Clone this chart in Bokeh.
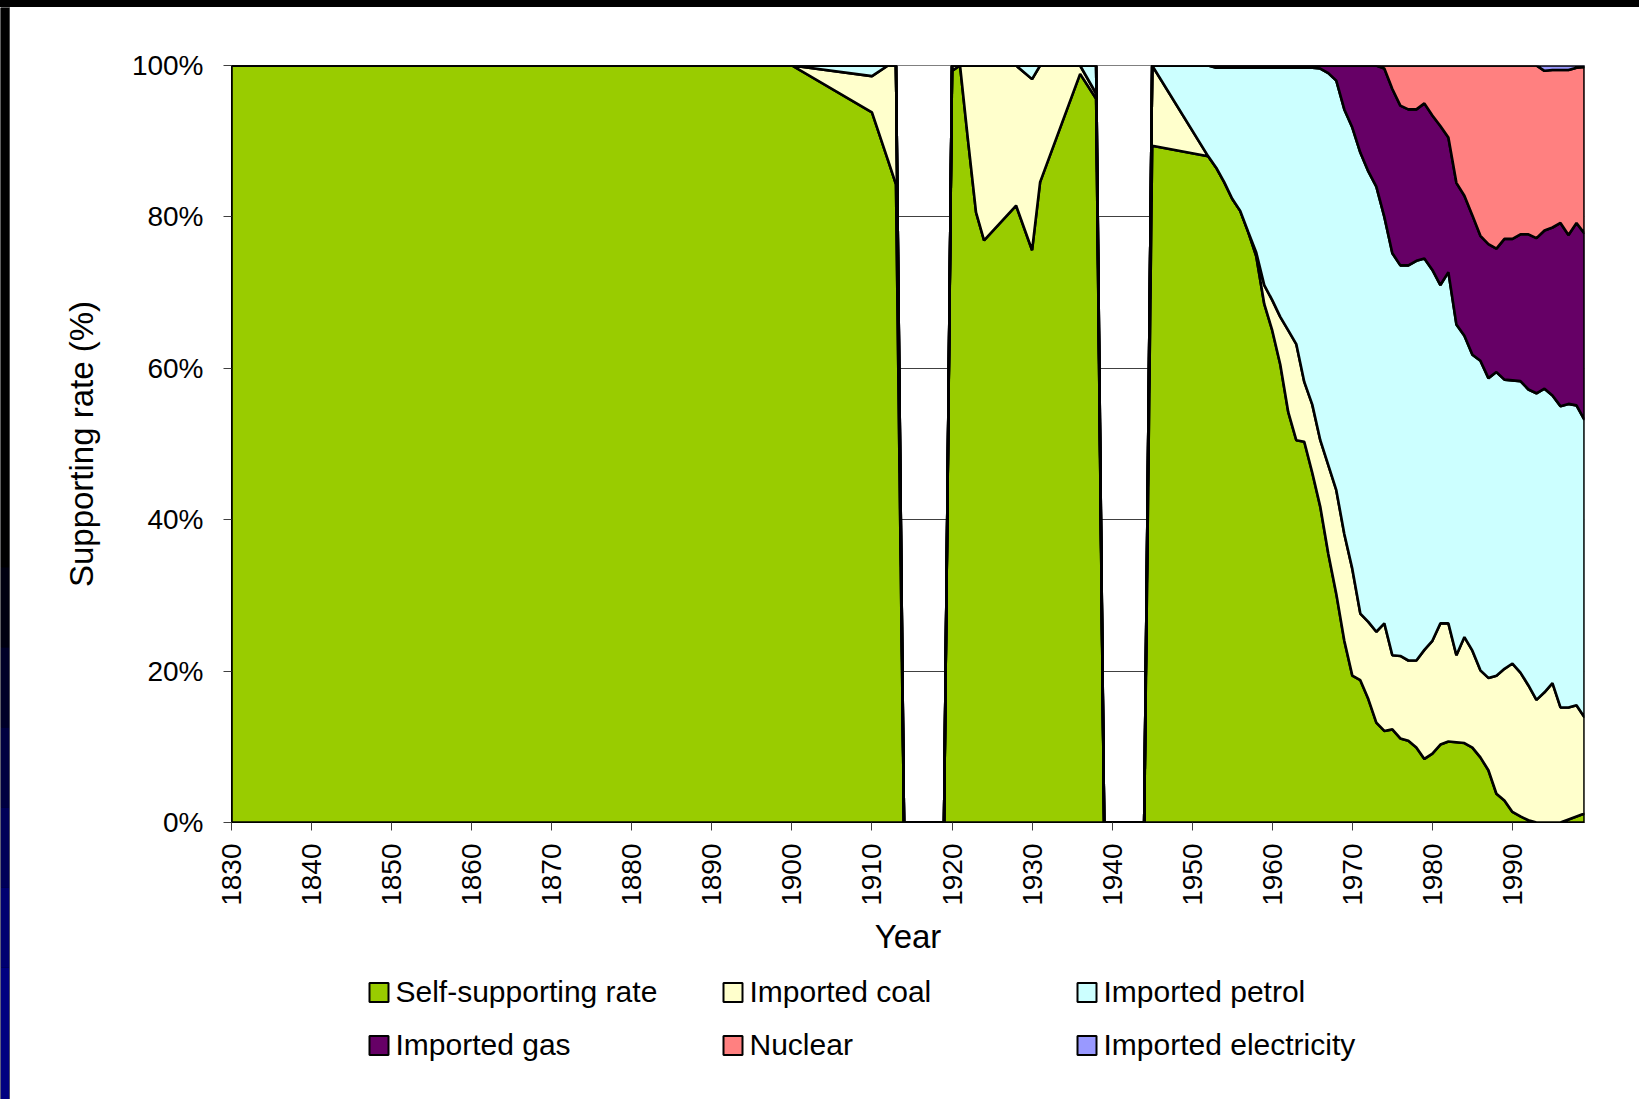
import math
from bokeh.plotting import figure
from bokeh.layouts import column, row
from bokeh.models import Range1d, FixedTicker, PrintfTickFormatter, Div
from bokeh.core.properties import value
from bokeh.embed import file_html
from bokeh.resources import INLINE

# ---------------- data (percent of supply) ----------------
years = [1830, 1900, 1910, 1912, 1913, 1914, 1919, 1920, 1921, 1922, 1923, 1924,
         1928, 1930, 1931, 1936, 1938, 1939, 1944, 1945, 1952,
         1953, 1954, 1955, 1956, 1957, 1958, 1959, 1960, 1961, 1962, 1963, 1964,
         1965, 1966, 1967, 1968, 1969, 1970, 1971, 1972, 1973, 1974, 1975, 1976,
         1977, 1978, 1979, 1980, 1981, 1982, 1983, 1984, 1985, 1986, 1987, 1988,
         1989, 1990, 1991, 1992, 1993, 1994, 1995, 1996, 1997, 1998, 1999]

self_supporting = [100, 100, 93.8, 87.5, 84.3, 0, 0, 99.3, 100, 90.1, 80.6, 76.9,
                   81.5, 75.6, 84.6, 98.9, 95.6, 0, 0, 89.4, 88.0,
                   86.5, 84.6, 82.4, 80.8, 78.0, 74.8, 68.5, 65.0, 60.5, 54.2, 50.5, 50.3,
                   46.2, 41.7, 35.5, 30.2, 24.0, 19.4, 18.8, 16.3, 13.2, 12.1, 12.3, 11.1,
                   10.8, 9.9, 8.4, 9.1, 10.3, 10.7, 10.6, 10.5, 9.9, 8.6, 6.9, 3.8,
                   2.9, 1.4, 0.8, 0.3, 0.0, 0.0, 0.0, 0.0, 0.4, 0.8, 1.2]

imported_coal = [0, 0, 4.8, 12.5, 15.7, 0, 0, 0.7, 0, 9.9, 19.4, 23.1,
                 18.5, 22.6, 15.4, 1.1, 0.7, 0, 0, 10.6, 0.0,
                 0.0, 0.0, 0.0, 0.0, 0.0, 0.5, 2.5, 4.0, 6.3, 10.8, 12.7, 7.9,
                 9.0, 8.8, 11.7, 13.7, 14.1, 14.1, 8.8, 10.2, 12.0, 14.2, 9.8, 10.9,
                 10.6, 11.5, 14.4, 14.9, 16.0, 15.6, 11.5, 14.0, 12.8, 11.5, 12.2, 15.6,
                 17.4, 19.6, 19.0, 17.8, 16.2, 17.2, 18.4, 15.2, 14.8, 14.7, 12.7]

imported_petrol = [0, 0, 1.4, 0, 0, 0, 0, 0, 0, 0, 0, 0,
                   0, 1.8, 0, 0, 3.7, 0, 0, 0, 12.0,
                   13.2, 15.1, 17.3, 18.9, 21.7, 24.4, 28.7, 30.7, 32.9, 34.7, 36.5, 41.5,
                   44.5, 49.1, 51.8, 54.1, 56.1, 58.3, 60.9, 59.5, 58.8, 53.7, 53.1, 51.6,
                   52.2, 52.8, 51.7, 49.0, 44.7, 46.4, 43.7, 39.8, 39.1, 40.9, 39.6, 40.1,
                   38.2, 37.4, 38.5, 39.1, 40.5, 40.1, 38.0, 39.8, 40.1, 39.6, 39.3]

imported_gas = [0, 0, 0, 0, 0, 0, 0, 0, 0, 0, 0, 0,
                0, 0, 0, 0, 0, 0, 0, 0, 0,
                0.3, 0.3, 0.3, 0.3, 0.3, 0.3, 0.3, 0.3, 0.3, 0.3, 0.3, 0.3,
                0.3, 0.4, 1.0, 2.0, 5.8, 8.2, 11.5, 14.0, 16.0, 19.6, 21.7, 21.1,
                20.6, 20.0, 20.5, 20.4, 21.0, 17.8, 18.7, 18.5, 18.4, 16.5, 17.7, 16.3,
                18.6, 18.7, 19.4, 20.5, 20.5, 20.9, 22.2, 24.2, 22.3, 24.1, 24.6]

nuclear = [0, 0, 0, 0, 0, 0, 0, 0, 0, 0, 0, 0,
           0, 0, 0, 0, 0, 0, 0, 0, 0,
           0, 0, 0, 0, 0, 0, 0, 0, 0, 0, 0, 0,
           0, 0, 0, 0, 0, 0, 0, 0, 0, 0.4, 3.1, 5.3,
           5.8, 5.8, 5.0, 6.6, 8.0, 9.5, 15.5, 17.2, 19.8, 22.5, 23.6, 24.2,
           22.9, 22.9, 22.3, 22.3, 22.8, 21.1, 20.8, 20.2, 21.8, 20.5, 22.0]

imported_electricity = [0, 0, 0, 0, 0, 0, 0, 0, 0, 0, 0, 0,
                        0, 0, 0, 0, 0, 0, 0, 0, 0,
                        0, 0, 0, 0, 0, 0, 0, 0, 0, 0, 0, 0,
                        0, 0, 0, 0, 0, 0, 0, 0, 0, 0, 0, 0,
                        0, 0, 0, 0, 0, 0, 0, 0, 0, 0, 0, 0,
                        0, 0, 0, 0, 0, 0.7, 0.6, 0.6, 0.6, 0.3, 0.2]

series_names = ["Self-supporting rate", "Imported coal", "Imported petrol",
                "Imported gas", "Nuclear", "Imported electricity"]
series_colors = ["#99CC00", "#FFFFCC", "#CCFFFF", "#660066", "#FF8080", "#9999FF"]
series_values = [self_supporting, imported_coal, imported_petrol,
                 imported_gas, nuclear, imported_electricity]

x_ticks = list(range(1830, 2000, 10))
y_ticks = [0, 20, 40, 60, 80, 100]
grid_ticks = [20, 40, 60, 80]

FONT = "Liberation Sans"

# page geometry of the main chart
FIG_W = 1613          # main chart width (a 10px slide strip sits to its left)
BORDER_L = 221
BORDER_R = 39
STRIP_H = 1092


def blank(width, height, x_range, y_range, bg, bl=0, br=0):
    f = figure(width=width, height=height, output_backend="svg", toolbar_location=None,
               title=None, x_range=x_range, y_range=y_range,
               x_axis_type=None, y_axis_type=None,
               min_border=0, min_border_left=bl, min_border_right=br,
               min_border_top=0, min_border_bottom=0)
    f.background_fill_color = bg
    f.border_fill_color = bg
    f.outline_line_color = None
    f.grid.visible = False
    return f


# ---------------- slide decoration ----------------
top_strip = Div(text="", width=1639, height=7,
                styles={"background-color": "black", "margin": "0", "padding": "0"})

left_strip = blank(10, STRIP_H, Range1d(0, 10), Range1d(STRIP_H, 0), "black")
band_tops = [0, 560, 640, 720, 800, 880, 960]
band_bottoms = [560, 640, 720, 800, 880, 960, STRIP_H]
band_colors = ["#000000", "#000010", "#000028", "#000040", "#000058", "#000070", "#000080"]
left_strip.quad(left=0, right=9, top=band_tops, bottom=band_bottoms,
                fill_color=band_colors, line_color=None)
left_strip.quad(left=9, right=10, top=0, bottom=STRIP_H, fill_color="#9a9a9a",
                line_color=None)

# ---------------- main chart ----------------
p = figure(width=FIG_W, height=960, output_backend="svg", toolbar_location=None,
           title=None, x_range=Range1d(1830, 1999), y_range=Range1d(0, 100),
           min_border_left=BORDER_L, min_border_right=BORDER_R, min_border_top=58,
           min_border_bottom=145)
p.background_fill_color = "white"
p.border_fill_color = "white"
p.outline_line_color = "#808080"
p.outline_line_width = 1

bottom = [0.0] * len(years)
for name, color, vals in zip(series_names, series_colors, series_values):
    top = [b + v for b, v in zip(bottom, vals)]
    xs = years + years[::-1]
    ys = top + bottom[::-1]
    p.patch(xs, ys, fill_color=color, line_color="black", line_width=2.6,
            line_join="bevel")
    bottom = top

p.xgrid.visible = False
p.ygrid.ticker = FixedTicker(ticks=grid_ticks)
p.ygrid.grid_line_color = "#404040"
p.ygrid.grid_line_width = 1

for ax in (p.xaxis[0], p.yaxis[0]):
    ax.axis_line_color = "black"
    ax.axis_line_width = 1
    ax.major_tick_in = 0
    ax.major_tick_out = 8
    ax.major_tick_line_color = "#404040"
    ax.minor_tick_line_color = None
    ax.major_label_text_font = FONT
    ax.major_label_text_font_size = "28px"
    ax.major_label_text_color = "black"
    ax.axis_label_text_font = FONT
    ax.axis_label_text_font_size = "33px"
    ax.axis_label_text_font_style = "normal"
    ax.axis_label_text_color = "black"

p.xaxis.ticker = FixedTicker(ticks=x_ticks)
p.xaxis.major_label_orientation = math.pi / 2
p.xaxis.major_label_standoff = 13
p.xaxis.axis_label = "Year"
p.xaxis.axis_label_standoff = 9

p.yaxis.ticker = FixedTicker(ticks=y_ticks)
p.yaxis.formatter = PrintfTickFormatter(format="%d%%")
p.yaxis.major_label_standoff = 20
p.yaxis.axis_label = "Supporting rate (%)"
p.yaxis.axis_label_standoff = 29

# ---------------- legend (drawn below the chart, in page pixel coordinates) ----------------
frame_left_px = 10 + BORDER_L
frame_right_px = 10 + FIG_W - BORDER_R
leg = blank(FIG_W, 118, Range1d(frame_left_px, frame_right_px), Range1d(118, 0), "white",
            bl=BORDER_L, br=BORDER_R)
col_x = [369, 723, 1077]
row_y = [24, 77]
mark_x, mark_y, text_x, text_y = [], [], [], []
for i in range(len(series_names)):
    cx = col_x[i % 3]
    cy = row_y[i // 3]
    mark_x.append(cx + 9.5)
    mark_y.append(cy + 1)
    text_x.append(cx + 26)
    text_y.append(cy)
leg.scatter(mark_x, mark_y, marker="square", size=19, fill_color=series_colors,
            line_color="black", line_width=2)
leg.text(text_x, text_y, text=series_names, text_font=value(FONT),
         text_font_size="30px", text_color="black", text_baseline="middle",
         text_align="left")

layout = column(top_strip, row(left_strip, column(p, leg, spacing=0), spacing=0),
                spacing=0)

open("out.html", "w").write(file_html(layout, INLINE))
